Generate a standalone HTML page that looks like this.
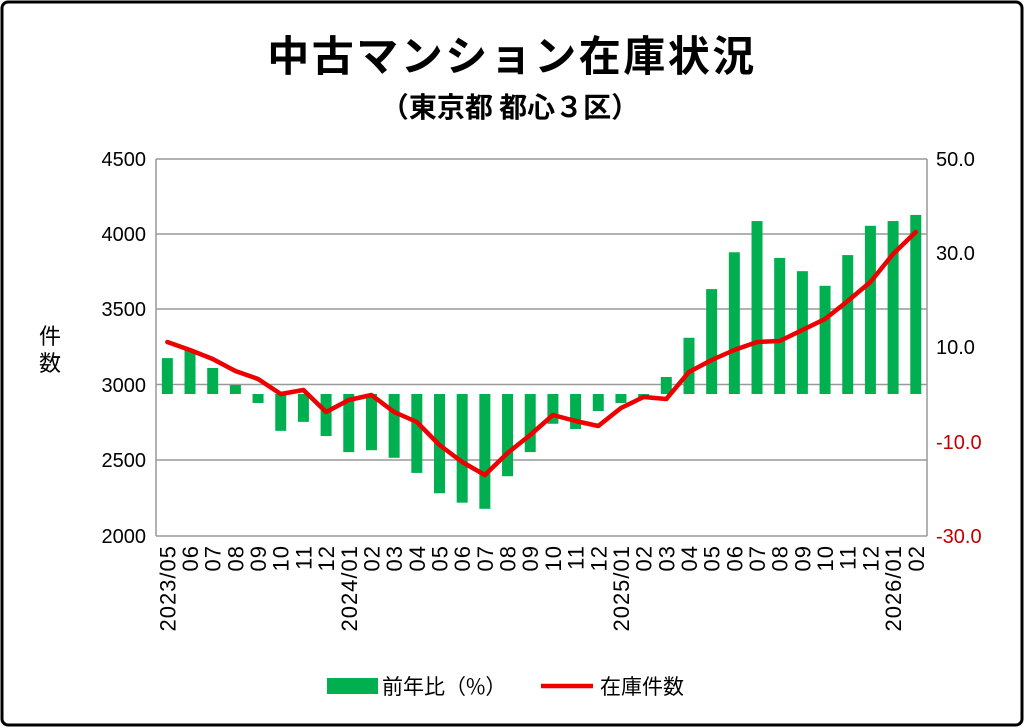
<!DOCTYPE html>
<html><head><meta charset="utf-8"><style>
html,body{margin:0;padding:0;background:#fff;}
svg{display:block;font-family:"Liberation Sans","Noto Sans CJK JP",sans-serif;}
</style></head><body>
<svg width="1024" height="727" viewBox="0 0 1024 727" xmlns="http://www.w3.org/2000/svg">
<rect x="2" y="2" width="1020" height="723" rx="6" fill="#fff" stroke="#000" stroke-width="3"/>
<text x="512" y="71" text-anchor="middle" font-size="42" font-weight="bold" letter-spacing="2.5" font-family="'Noto Sans CJK JP',sans-serif">中古マンション在庫状況</text>
<text x="510" y="117" text-anchor="middle" font-size="28" font-weight="bold" font-family="'Noto Sans CJK JP',sans-serif">（東京都 都心３区）</text>
<g stroke="#999" stroke-width="1.5">
<line x1="156" y1="159" x2="927" y2="159"/>
<line x1="156" y1="234" x2="927" y2="234"/>
<line x1="156" y1="309" x2="927" y2="309"/>
<line x1="156" y1="384.5" x2="927" y2="384.5"/>
<line x1="156" y1="460" x2="927" y2="460"/>
<line x1="156" y1="536" x2="927" y2="536"/>
<line x1="156" y1="159" x2="156" y2="536"/>
<line x1="927" y1="159" x2="927" y2="536"/>
</g>
<g font-size="20" text-anchor="end" fill="#000">
<text x="146" y="166">4500</text><text x="146" y="241">4000</text><text x="146" y="316">3500</text>
<text x="146" y="392">3000</text><text x="146" y="467">2500</text><text x="146" y="543">2000</text>
</g>
<g font-size="20" fill="#000">
<text x="936" y="166">50.0</text><text x="936" y="260">30.0</text><text x="936" y="354">10.0</text>
</g>
<g font-size="20" fill="#c00000">
<text x="936" y="449">-10.0</text><text x="936" y="543">-30.0</text>
</g>
<text x="50" y="344" text-anchor="middle" font-size="22" font-family="'Noto Sans CJK JP',sans-serif">件</text>
<text x="50" y="371" text-anchor="middle" font-size="22" font-family="'Noto Sans CJK JP',sans-serif">数</text>
<g id="bars" fill="#00b050"></g>
<polyline id="line" fill="none" stroke="#ee0000" stroke-width="4.5" stroke-linejoin="round" stroke-linecap="round"/>
<g id="xl" font-size="22" letter-spacing="1"></g>
<rect x="327" y="678" width="51" height="16" fill="#00b050"/>
<text x="382" y="694" font-size="21" font-family="'Noto Sans CJK JP',sans-serif">前年比（%）</text>
<line x1="541" y1="686" x2="593" y2="686" stroke="#ee0000" stroke-width="4.5"/>
<text x="600" y="694" font-size="21" font-family="'Noto Sans CJK JP',sans-serif">在庫件数</text>
</svg>
<script>
var ns="http://www.w3.org/2000/svg";
var bars=[7.6,9.3,5.5,1.9,-1.9,-7.8,-5.9,-8.9,-12.3,-11.9,-13.5,-16.7,-21,-23,-24.3,-17.4,-12.3,-6.3,-7.4,-3.6,-1.9,-0.8,3.6,11.9,22.2,30,36.6,28.8,26,22.9,29.4,35.6,36.6,37.9];
var ly=[342,350,359,371,379,394,390,412,400,395,412,422,445,462,475,453,435,415,421,426,408,397,399,372,360,350,342,341,330,319,301,282,254,232];
var labels=["2023/05","06","07","08","09","10","11","12","2024/01","02","03","04","05","06","07","08","09","10","11","12","2025/01","02","03","04","05","06","07","08","09","10","11","12","2026/01","02"];
var step=22.68,x0=156+step/2,z=394,k=4.725,pts=[];
var bg=document.getElementById("bars"),xl=document.getElementById("xl");
for(var i=0;i<34;i++){var cx=x0+i*step;var y=z-bars[i]*k;
var r=document.createElementNS(ns,"rect");r.setAttribute("x",cx-5.5);r.setAttribute("width",11);
r.setAttribute("y",Math.min(y,z));r.setAttribute("height",Math.abs(y-z));bg.appendChild(r);
pts.push(cx+","+ly[i]);
var t=document.createElementNS(ns,"text");t.setAttribute("transform","translate("+(cx+8)+",545) rotate(-90)");
t.setAttribute("text-anchor","end");t.textContent=labels[i];xl.appendChild(t);}
document.getElementById("line").setAttribute("points",pts.join(" "));
</script>
</body></html>
